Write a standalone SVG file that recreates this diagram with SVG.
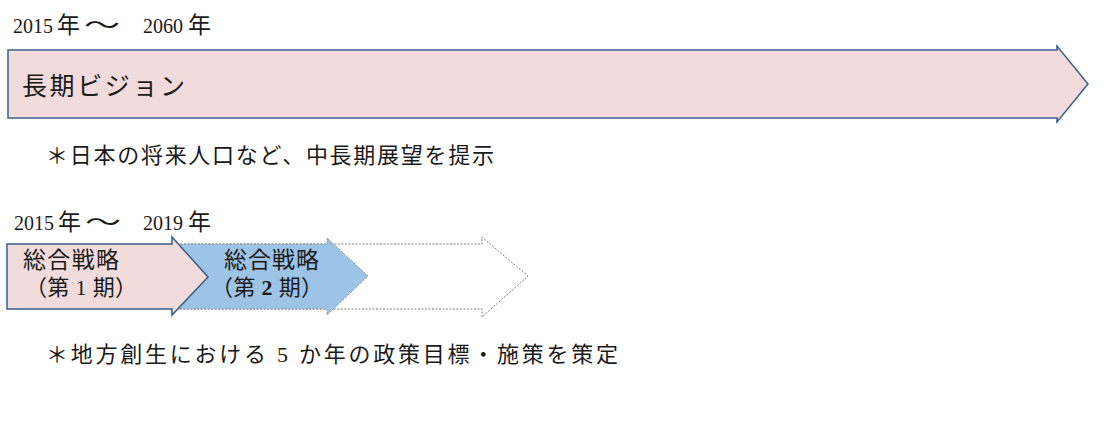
<svg xmlns="http://www.w3.org/2000/svg" width="1104" height="423" viewBox="0 0 1104 423">
<style>
.t{font-family:"Liberation Serif","Noto Sans CJK JP",serif;fill:#1a1a1a}
.d{font-family:"Liberation Serif",serif;font-size:22px;fill:#1a1a1a}
.j{font-family:"Noto Sans CJK JP",sans-serif;font-size:23px;fill:#1a1a1a}
.pink{fill:#f2dcdb;stroke:#385d8a;stroke-width:1.5}
.blue{fill:#9dc3e6;stroke:#8c8c8c;stroke-width:1;stroke-dasharray:2 1.5}
.white{fill:#ffffff;stroke:#7f7f7f;stroke-width:1;stroke-dasharray:2 1.5}
</style>
<rect width="1104" height="423" fill="#ffffff"/>
<g id="label-2060">
<text class="d" x="13" y="33" textLength="40" lengthAdjust="spacingAndGlyphs">2015</text>
<text class="j" x="57" y="33">年</text>
<text class="j" x="84" y="33" textLength="36" lengthAdjust="spacingAndGlyphs">～</text>
<text class="d" x="143" y="33" textLength="40" lengthAdjust="spacingAndGlyphs">2060</text>
<text class="j" x="188" y="33">年</text>
</g>
<g id="long-vision">
<path class="pink" d="M8 50 H1057 V46 L1088 84 L1057 122 V118 H8 Z"/>
<text class="t" font-size="25" x="22" y="95" textLength="163" lengthAdjust="spacing">長期ビジョン</text>
</g>
<g id="note1">
<text class="t" font-size="22" x="46" y="163" textLength="448" lengthAdjust="spacing">＊日本の将来人口など、中長期展望を提示</text>
</g>
<g id="label-2019">
<text class="d" x="14" y="230" textLength="40" lengthAdjust="spacingAndGlyphs">2015</text>
<text class="j" x="58" y="230">年</text>
<text class="j" x="85" y="230" textLength="36" lengthAdjust="spacingAndGlyphs">～</text>
<text class="d" x="143" y="230" textLength="40" lengthAdjust="spacingAndGlyphs">2019</text>
<text class="j" x="188" y="230">年</text>
</g>
<g id="future">
<path class="white" d="M170 244 H482 V237 L528 276 L482 317 V309 H170 Z"/>
</g>
<g id="strategy2">
<path class="blue" d="M170 244 H327 V238 L368 276 L327 315 V309 H170 Z"/>
<text class="t" font-size="23" x="224" y="268" textLength="95" lengthAdjust="spacing">総合戦略</text>
<text class="t" font-size="22" x="211" y="295" textLength="112" lengthAdjust="spacing">（第 <tspan font-weight="bold">2</tspan> 期）</text>
</g>
<g id="strategy1">
<path class="pink" d="M7 244 H172 V237 L208 277 L172 315 V309 H7 Z"/>
<text class="t" font-size="23" x="23" y="268" textLength="96" lengthAdjust="spacing">総合戦略</text>
<text class="t" font-size="22" x="25" y="295" textLength="112" lengthAdjust="spacing">（第 1 期）</text>
</g>
<g id="note2">
<text class="t" font-size="22" x="46" y="362" textLength="572" lengthAdjust="spacing">＊地方創生における 5 か年の政策目標・施策を策定</text>
</g>
<g id="connectors"/>
</svg>
